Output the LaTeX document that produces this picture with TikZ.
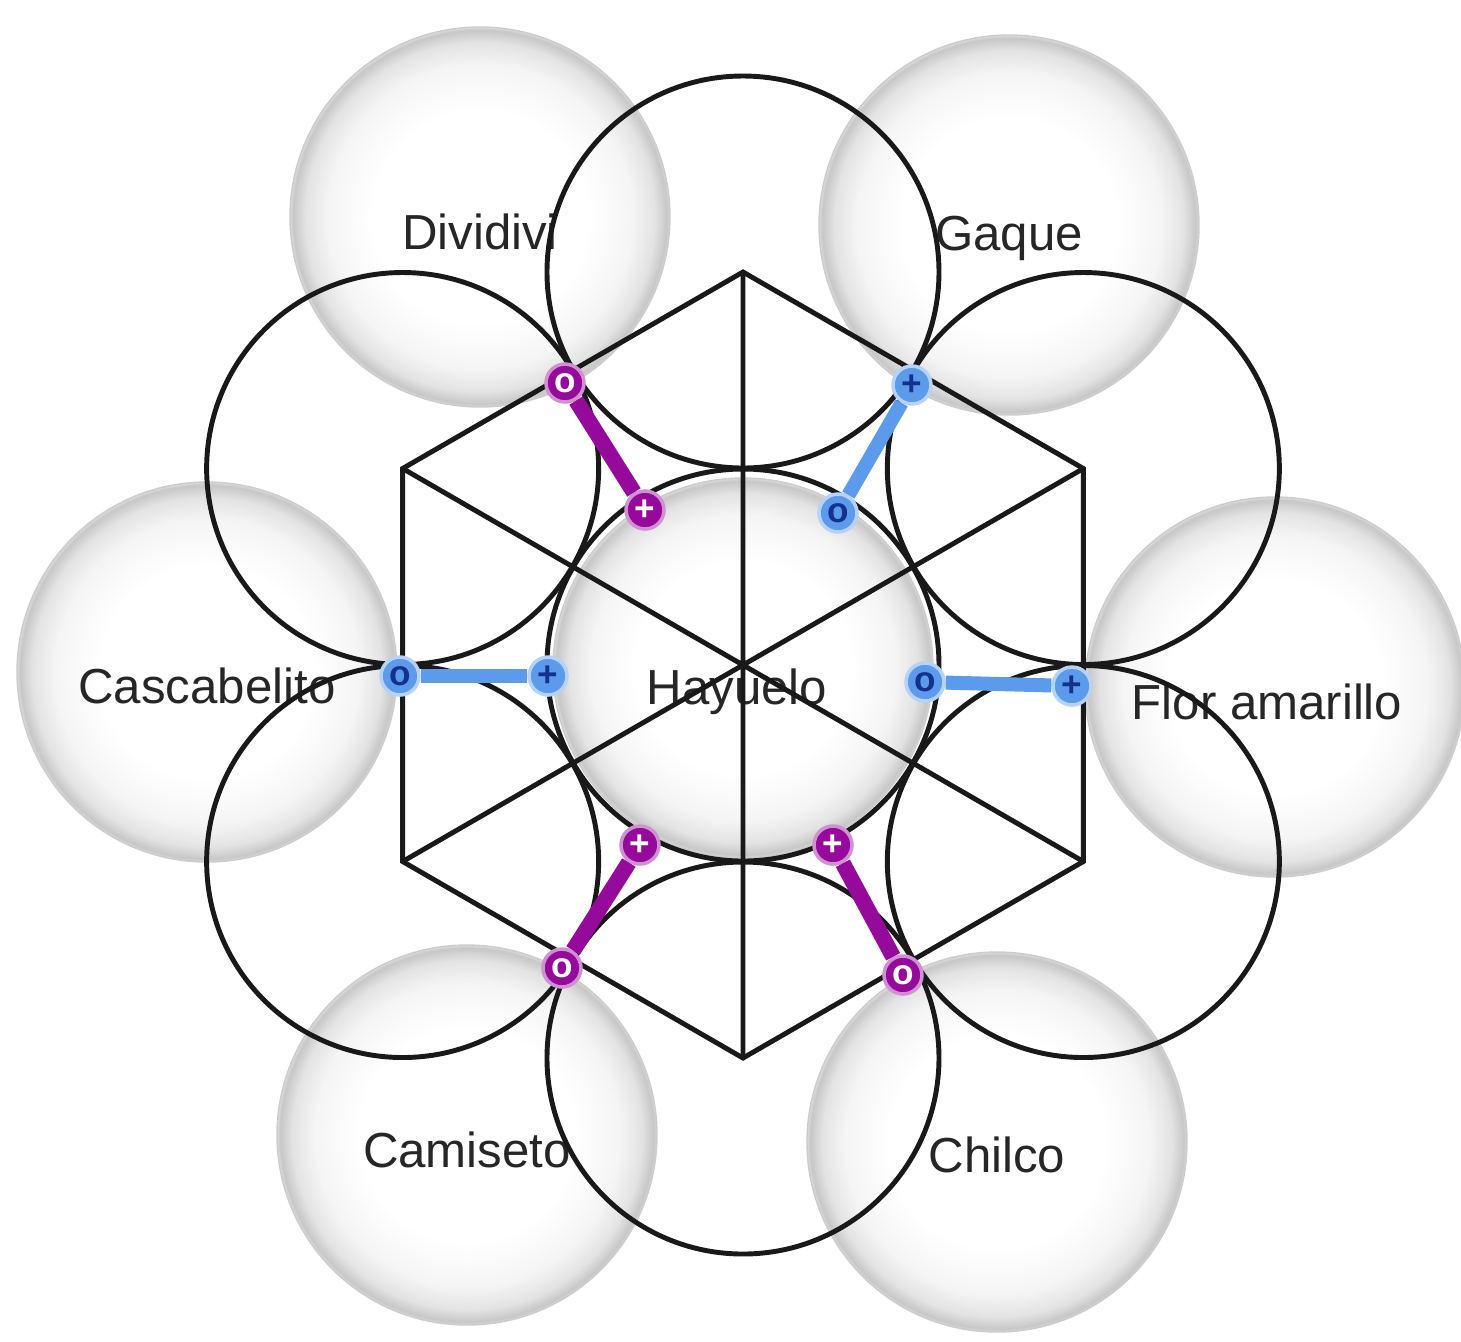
\documentclass[tikz,border=0pt]{standalone}
\usepackage{fontspec}
\setmainfont{Liberation Sans}
\usetikzlibrary{positioning,calc}
\pgfdeclareradialshading{ballshade}{\pgfpointorigin}{%
  color(0bp)=(white); color(14bp)=(white); color(20bp)=(black!4);
  color(23bp)=(black!11); color(24.6bp)=(black!22); color(25bp)=(black!14);
  color(50bp)=(black!14)}
\definecolor{pbond}{RGB}{150,10,155}
\definecolor{bbond}{RGB}{92,155,235}
\definecolor{bdark}{RGB}{20,50,140}
\tikzset{
  ball/.style={circle, minimum size=38mm, inner sep=0pt, shading=ballshade,
               draw=black!20, line width=0.4pt},
  lbl/.style={font=\fontsize{14}{16}\selectfont, text=black!85, inner sep=1pt},
  geo/.style={line width=1.4pt, black!90},
  pm/.style={circle, fill=pbond, draw=pbond!45, line width=1pt, minimum size=3.8mm,
             inner sep=0pt, text=white, font=\bfseries\fontsize{10}{10}\selectfont},
  bm/.style={circle, fill=bbond, draw=bbond!45, line width=1pt, minimum size=3.8mm,
             inner sep=0pt, text=bdark, font=\bfseries\fontsize{10}{10}\selectfont},
  pb/.style={pbond, line width=4.5pt},
  bb/.style={bbond, line width=4pt},
}

\begin{document}
\begin{tikzpicture}
  \fill[white] (-7.43,-6.76) rectangle (7.18,6.65);
  \useasboundingbox (-7.43,-6.76) rectangle (7.18,6.65);
  % spheres
  \node[ball] (div) at (-2.63,4.48) {};
  \node[ball] (gaq) at (2.66,4.40) {};
  \node[ball] (cas) at (-5.36,-0.07) {};
  \node[ball] (flo) at (5.32,-0.22) {};
  \node[ball] (hay) at (0,-0.03) {};
  \node[ball] (cam) at (-2.76,-4.70) {};
  \node[ball] (chi) at (2.54,-4.77) {};
  \node[lbl] at ([yshift=-1.5mm]div.center) {Dividivi};
  \node[lbl] at ([yshift=-1.3mm]gaq.center) {Gaque};
  \node[lbl] at ([yshift=-1.4mm]cas.center) {Cascabelito};
  \node[lbl] at ([xshift=-0.8mm,yshift=-1.5mm]flo.center) {Flor amarillo};
  \node[lbl] at ([xshift=-0.6mm,yshift=-2.4mm]hay.center) {Hayuelo};
  \node[lbl] at ([yshift=-1.5mm]cam.center) {Camiseto};
  \node[lbl] at ([yshift=-1.3mm]chi.center) {Chilco};
  % hexagon, diameters and circles
  \coordinate (o) at (0,0);
  \foreach \i in {1,...,6}
    \coordinate (v\i) at ({90+60*(\i-1)}:3.93);
  \draw[geo] (v1)--(v2)--(v3)--(v4)--(v5)--(v6)--cycle;
  \draw[geo] (v1)--(v4) (v2)--(v5) (v3)--(v6);
  \draw[geo] (o) circle (1.96);
  \foreach \i in {1,...,6}
    \draw[geo] (v\i) circle (1.96);
  % bonds
  \node[pm] (p1o) at (-1.78,2.82) {o};
  \node[pm] (p1i) at (-0.98,1.55) {+};
  \node[bm] (b1o) at (1.69,2.80) {+};
  \node[bm] (b1i) at (0.95,1.52) {o};
  \node[bm] (b2o) at (-3.43,-0.11) {o};
  \node[bm] (b2i) at (-1.95,-0.11) {+};
  \node[bm] (b3i) at (1.82,-0.17) {o};
  \node[bm] (b3o) at (3.29,-0.21) {+};
  \node[pm] (p2i) at (-1.03,-1.80) {+};
  \node[pm] (p2o) at (-1.81,-3.03) {o};
  \node[pm] (p3i) at (0.90,-1.80) {+};
  \node[pm] (p3o) at (1.60,-3.10) {o};
  \draw[pb] (p1o)--(p1i); \draw[pb] (p2i)--(p2o); \draw[pb] (p3i)--(p3o);
  \draw[bb] (b1o)--(b1i); \draw[bb] (b2o)--(b2i); \draw[bb] (b3i)--(b3o);
\end{tikzpicture}
\end{document}
